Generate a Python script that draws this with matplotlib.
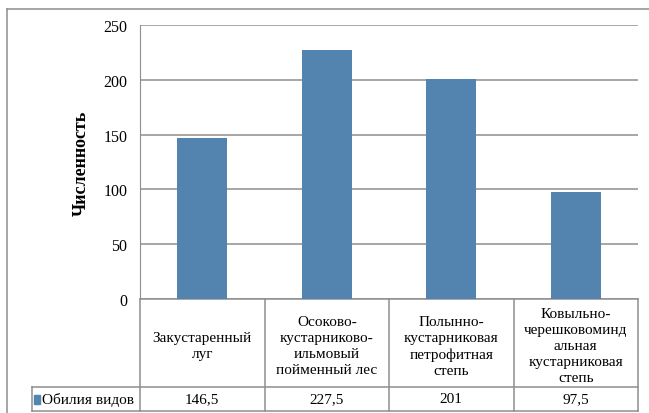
import matplotlib.pyplot as plt
from matplotlib.transforms import blended_transform_factory
from matplotlib.patches import Rectangle

plt.rcParams['font.family'] = ['Liberation Serif', 'DejaVu Serif']

categories = ["Закустаренный\nлуг",
              "Осоково-\nкустарниково-\nильмовый\nпойменный лес",
              "Полынно-\nкустарниковая\nпетрофитная\nстепь",
              "Ковыльно-\nчерешковоминд\nальная\nкустарниковая\nстепь"]
values = [146.5, 227.5, 201, 97.5]
value_labels = ["146,5", "227,5", "201", "97,5"]
series_name = "Обилия видов"
yticks = [0, 50, 100, 150, 200, 250]

W, H = 649, 414
bar_color = '#5284AF'
grid_color = '#8E8E8E'

fig = plt.figure(figsize=(W / 100, H / 100), dpi=100)
ax = fig.add_axes([140 / W, 1 - 300 / H, 498 / W, 274 / H])

x = range(len(values))
ax.bar(x, values, width=0.4, color=bar_color, zorder=3)
ax.set_xlim(-0.5, len(values) - 0.5)
ax.set_ylim(0, 250)
ax.set_yticks(yticks)
ax.set_yticklabels([str(t) for t in yticks], fontsize=11.5)
ax.set_xticks([])
ax.tick_params(axis='y', length=0, pad=9)
ax.yaxis.grid(True, color=grid_color, linewidth=1.1, zorder=0)
for s in ['top', 'right', 'bottom']:
    ax.spines[s].set_visible(False)
ax.spines['left'].set_color(grid_color)
ax.set_ylabel("Численность", fontsize=13, fontweight='bold', labelpad=10)

# data table below the axis
tr = blended_transform_factory(ax.transData, ax.transAxes)
h_px = 274
y_mid = -(388 - 300) / h_px
y_bot = -(412 - 300) / h_px
x_hdr = -0.5 - 108 / 124.5
lkw = dict(color=grid_color, linewidth=1.1, transform=tr, clip_on=False)
ax.plot([-0.5, len(values) - 0.5], [0, 0], **lkw)
ax.plot([x_hdr, len(values) - 0.5], [y_mid, y_mid], **lkw)
ax.plot([x_hdr, len(values) - 0.5], [y_bot, y_bot], **lkw)
ax.plot([x_hdr, x_hdr], [y_mid, y_bot], **lkw)
for i in range(len(values) + 1):
    ax.plot([i - 0.5, i - 0.5], [0, y_bot], **lkw)

y_cat = -(347 - 300) / h_px
y_val = (y_mid + y_bot) / 2
for i, (c, v) in enumerate(zip(categories, value_labels)):
    ax.text(i, y_cat, c, transform=tr, ha='center', va='center',
            fontsize=11, linespacing=1.3)
    ax.text(i, y_val, v, transform=tr, ha='center', va='center', fontsize=11)

ax.add_patch(Rectangle((x_hdr + 0.02, y_val - 0.017), 0.045, 0.03,
                       transform=tr, color=bar_color, clip_on=False))
ax.text(x_hdr + 0.08, y_val, series_name, transform=tr, ha='left',
        va='center', fontsize=11)

# outer chart frame
fig.add_artist(plt.Line2D([7 / W, 1.01], [1 - 10 / H, 1 - 10 / H],
                          color=grid_color, linewidth=1.1))
fig.add_artist(plt.Line2D([7 / W, 7 / W], [1 - 10 / H, -0.01],
                          color=grid_color, linewidth=1.1))

fig.savefig("out.png", dpi=100)
